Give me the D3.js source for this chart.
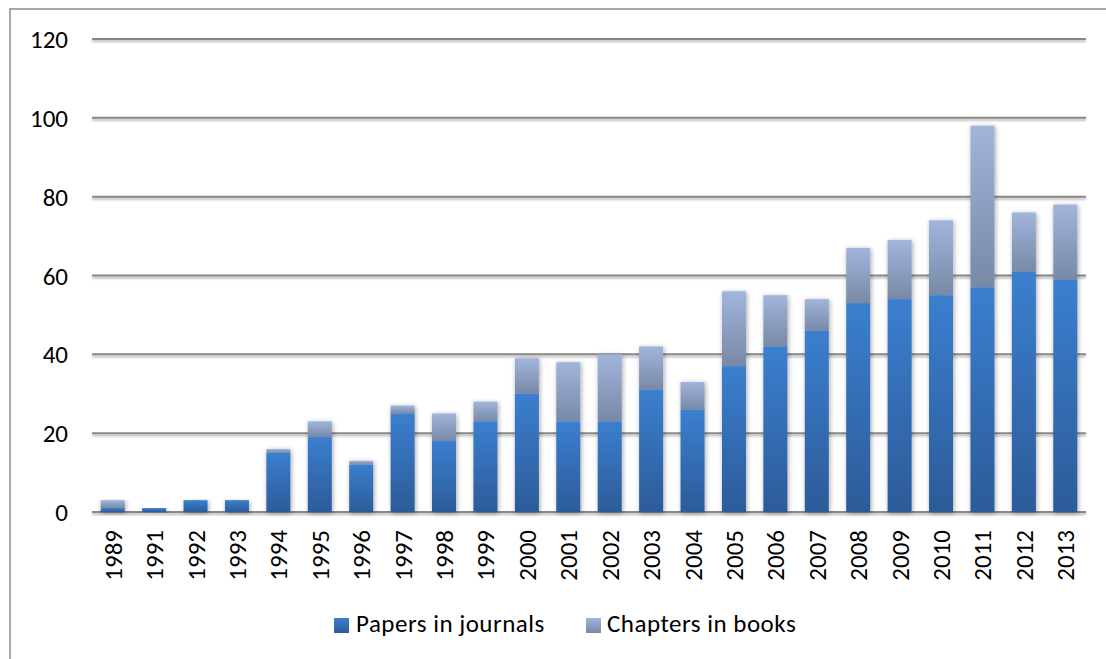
<!DOCTYPE html>
<html><head><meta charset="utf-8">
<script src="https://cdn.jsdelivr.net/npm/d3@7/dist/d3.min.js"></script>
<style>body{margin:0;background:#fff}svg{display:block}text{font-family:Carlito,Calibri,Lato,"Open Sans",sans-serif;fill:#000}</style>
</head><body><svg id="c" width="1106" height="659"></svg>
<script>
const years = ["1989","1991","1992","1993","1994","1995","1996","1997","1998","1999","2000","2001","2002","2003","2004","2005","2006","2007","2008","2009","2010","2011","2012","2013"];
const papers =   [1,1,3,3,15,19,12,25,18,23,30,23,23,31,26,37,42,46,53,54,55,57,61,59];
const chapters = [2,0,0,0,1,4,1,2,7,5,9,15,17,11,7,19,13,8,14,15,19,41,15,19];
const yTicks = [0,20,40,60,80,100,120];
const seriesNames = ["Papers in journals","Chapters in books"];

(function(){
const svg = d3.select("#c");
const defs = svg.append("defs");
function grad(id, c1, c2){
  const g = defs.append("linearGradient").attr("id",id).attr("x1",0).attr("y1",0).attr("x2",0).attr("y2",1);
  g.append("stop").attr("offset","0%").attr("stop-color",c1);
  g.append("stop").attr("offset","100%").attr("stop-color",c2);
}
grad("gP","#3b7fcf","#2c5b99");
grad("gC","#a1b5dc","#7889a6");
const f = defs.append("filter").attr("id","sh").attr("x","-30%").attr("y","-10%").attr("width","160%").attr("height","130%");
f.append("feGaussianBlur").attr("in","SourceAlpha").attr("stdDeviation",2.5).attr("result","b");
f.append("feOffset").attr("in","b").attr("dx",1).attr("dy",1).attr("result","o");
f.append("feComponentTransfer").attr("in","o").attr("result","o2").append("feFuncA").attr("type","linear").attr("slope",0.35);
const m = f.append("feMerge"); m.append("feMergeNode").attr("in","o2"); m.append("feMergeNode").attr("in","SourceGraphic");
const f2 = defs.append("filter").attr("id","lsh").attr("filterUnits","userSpaceOnUse").attr("x",0).attr("y",0).attr("width",1106).attr("height",659);
f2.append("feGaussianBlur").attr("in","SourceAlpha").attr("stdDeviation",1).attr("result","b");
f2.append("feOffset").attr("in","b").attr("dx",0).attr("dy",1.5).attr("result","o");
f2.append("feComponentTransfer").attr("in","o").attr("result","o2").append("feFuncA").attr("type","linear").attr("slope",0.3);
const m2 = f2.append("feMerge"); m2.append("feMergeNode").attr("in","o2"); m2.append("feMergeNode").attr("in","SourceGraphic");

// outer border
svg.append("rect").attr("x",10).attr("y",9).attr("width",1200).attr("height",800)
  .attr("fill","none").attr("stroke","#8c8c8c").attr("stroke-width",1.5);

const L = 92, R = 1086, T = 39, B = 512;
const x = d3.scaleBand().domain(years).range([L,R]).paddingInner(0.42).paddingOuter(0.21);
const y = d3.scaleLinear().domain([0,120]).range([B,T]);

// gridlines
svg.append("g").attr("filter","url(#lsh)").selectAll("line").data(yTicks).join("line")
  .attr("x1",L).attr("x2",R).attr("y1",d=>y(d)).attr("y2",d=>y(d))
  .attr("stroke","#888").attr("stroke-width",2);

// y labels
svg.append("g").selectAll("text").data(yTicks).join("text")
  .attr("x",68).attr("y",d=>y(d)).attr("dy","0.36em").attr("text-anchor","end")
  .attr("font-size",25).text(d=>d);

// bars
const data = years.map((yr,i)=>({yr,p:papers[i],c:chapters[i]}));
const g = svg.append("g").selectAll("g").data(data).join("g").attr("filter","url(#sh)");
g.filter(d=>d.c>0).append("rect").attr("x",d=>x(d.yr)).attr("width",x.bandwidth())
  .attr("y",d=>y(d.p+d.c)).attr("height",d=>y(d.p)-y(d.p+d.c)).attr("fill","url(#gC)");
g.append("rect").attr("x",d=>x(d.yr)).attr("width",x.bandwidth())
  .attr("y",d=>y(d.p)).attr("height",d=>y(0)-y(d.p)).attr("fill","url(#gP)");

// x labels
svg.append("g").selectAll("text").data(years).join("text")
  .attr("transform",d=>`translate(${x(d)+x.bandwidth()/2+9},530) rotate(-90)`)
  .attr("text-anchor","end").attr("font-size",25).text(d=>d);

// legend
const leg = svg.append("g");
const items = [{n:seriesNames[0],g:"url(#gP)",sx:334,tx:356},{n:seriesNames[1],g:"url(#gC)",sx:586,tx:607}];
items.forEach(it=>{
  leg.append("rect").attr("x",it.sx).attr("y",618).attr("width",15).attr("height",15).attr("fill",it.g);
  leg.append("text").attr("x",it.tx).attr("y",632).attr("font-size",25).attr("letter-spacing",0.5).text(it.n);
});
})();
</script></body></html>
